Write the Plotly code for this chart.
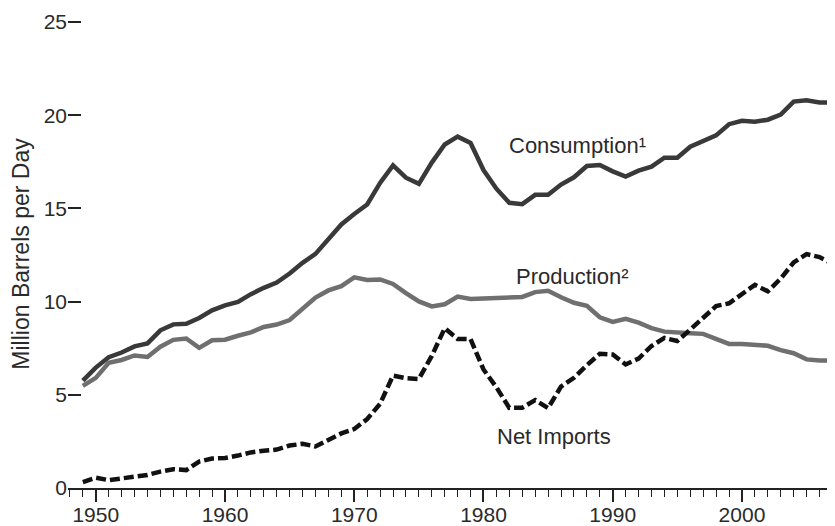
import plotly.graph_objects as go

years = list(range(1949, 2008))
consumption = [5.76, 6.46, 7.02, 7.27, 7.60, 7.76, 8.46, 8.78, 8.81, 9.12,
               9.53, 9.80, 9.98, 10.40, 10.74, 11.02, 11.51, 12.08, 12.56, 13.39,
               14.14, 14.70, 15.21, 16.37, 17.31, 16.65, 16.32, 17.46, 18.43, 18.85,
               18.51, 17.06, 16.06, 15.30, 15.23, 15.73, 15.73, 16.28, 16.67, 17.28,
               17.33, 16.99, 16.71, 17.03, 17.24, 17.72, 17.72, 18.31, 18.62, 18.92,
               19.52, 19.70, 19.65, 19.76, 20.03, 20.73, 20.80, 20.69, 20.68]
production = [5.48, 5.91, 6.72, 6.87, 7.11, 7.03, 7.58, 7.95, 8.02, 7.52,
              7.93, 7.96, 8.17, 8.35, 8.64, 8.77, 9.01, 9.58, 10.22, 10.60,
              10.83, 11.30, 11.16, 11.19, 10.95, 10.46, 10.01, 9.74, 9.86, 10.27,
              10.14, 10.17, 10.18, 10.20, 10.25, 10.51, 10.58, 10.23, 9.94, 9.77,
              9.16, 8.91, 9.08, 8.87, 8.58, 8.39, 8.32, 8.30, 8.27, 8.01,
              7.73, 7.73, 7.67, 7.63, 7.40, 7.23, 6.90, 6.84, 6.85]
net_imports = [0.32, 0.55, 0.42, 0.52, 0.63, 0.70, 0.88, 1.01, 0.96, 1.42,
               1.58, 1.61, 1.74, 1.91, 2.00, 2.06, 2.28, 2.37, 2.23, 2.61,
               2.93, 3.16, 3.70, 4.52, 6.03, 5.89, 5.85, 7.09, 8.57, 8.00,
               7.99, 6.36, 5.40, 4.30, 4.31, 4.72, 4.29, 5.44, 5.91, 6.59,
               7.20, 7.16, 6.63, 6.94, 7.62, 8.05, 7.89, 8.50, 9.16, 9.76,
               9.91, 10.42, 10.90, 10.55, 11.24, 12.10, 12.55, 12.39, 12.04]

x_ticks = [1950, 1960, 1970, 1980, 1990, 2000]
y_ticks = [0, 5, 10, 15, 20, 25]

FONT = "Liberation Sans, Arial, sans-serif"
TXT = "#2a2a2a"

fig = go.Figure()
fig.add_trace(go.Scatter(x=years, y=consumption, mode="lines",
                         line=dict(color="#393939", width=4.5)))
fig.add_trace(go.Scatter(x=years, y=production, mode="lines",
                         line=dict(color="#6f6f6f", width=4.5)))
fig.add_trace(go.Scatter(x=years, y=net_imports, mode="lines",
                         line=dict(color="#111111", width=4.5, dash="10px,4px")))

ann_font = dict(family=FONT, size=22, color=TXT)
fig.add_annotation(x=1987.3, y=18.4, text="Consumption¹", showarrow=False, font=ann_font)
fig.add_annotation(x=1986.9, y=11.37, text="Production²", showarrow=False, font=ann_font)
fig.add_annotation(x=1985.45, y=2.74, text="Net Imports", showarrow=False, font=ann_font)

# page body has an 8px margin, so the figure is shrunk/shifted to compensate
fig.update_layout(
    width=827, height=518,
    margin=dict(l=60, r=0, t=12, b=38),
    plot_bgcolor="white", paper_bgcolor="white",
    showlegend=False,
    font=dict(family=FONT, size=22, color=TXT),
    xaxis=dict(range=[1947.85, 2007.2], tickmode="array", tickvals=x_ticks,
               showgrid=False, zeroline=False, showline=True, linecolor="#222",
               linewidth=1.5, ticks="outside", ticklen=12, tickwidth=1.5,
               tickcolor="#222", automargin=False, ticklabelstandoff=-5,
               minor=dict(dtick=1, tick0=1949, ticks="outside", ticklen=7,
                          tickwidth=1.2, tickcolor="#222", showgrid=False),
               tickfont=dict(size=21, color=TXT)),
    yaxis=dict(range=[0, 25.11], tickmode="array", tickvals=y_ticks,
               showgrid=False, zeroline=False, showline=False,
               ticks="inside", ticklen=13, tickwidth=1.5, tickcolor="#222",
               automargin=False,
               tickfont=dict(size=21, color=TXT),
               title=dict(text="Million Barrels per Day",
                          font=dict(size=23, color=TXT), standoff=10)),
)

fig.write_html("out.html")
